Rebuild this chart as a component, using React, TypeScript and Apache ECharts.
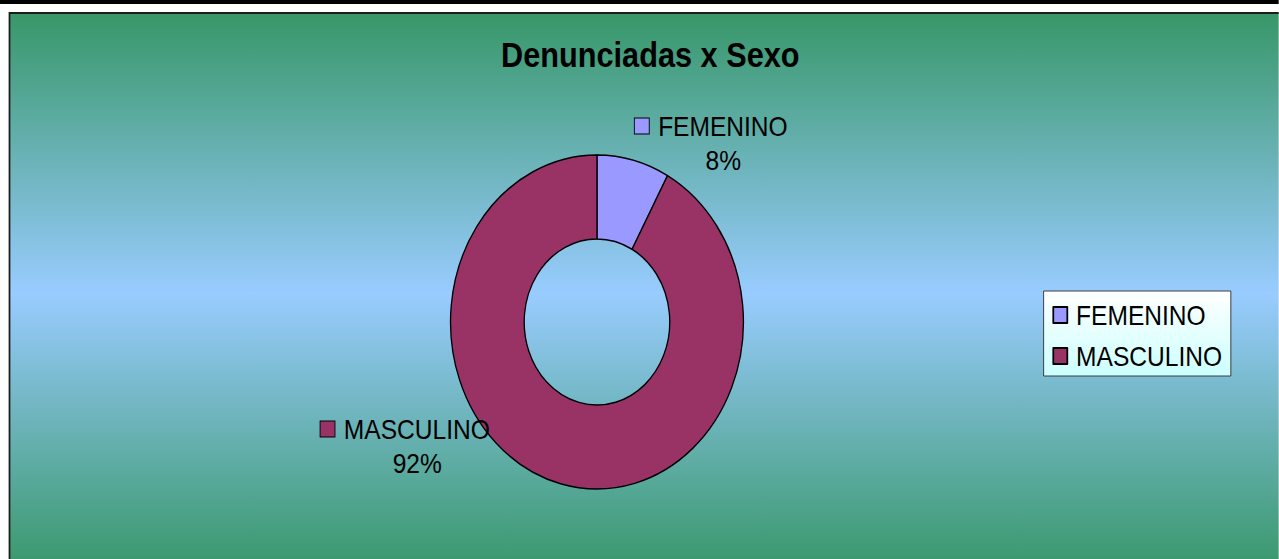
import React, { useEffect, useRef } from "react";
import * as echarts from "echarts";

const categories = ["FEMENINO", "MASCULINO"];
const values = [8, 92];
const sliceColors = ["#9999FF", "#993366"];
const titleText = "Denunciadas x Sexo";

const SX = 0.877; // horizontal compression of the original picture
const VIEW_W = 1279;
const VIEW_H = 559;
const W = VIEW_W / SX;

const FONT = "'Liberation Sans', Arial, sans-serif";

export default function App() {
  const ref = useRef<HTMLDivElement>(null);

  useEffect(() => {
    if (!ref.current) return;
    const chart = echarts.init(ref.current, null, { renderer: "svg" });

    const labelPos = [
      { x: 811, y: 143 },
      { x: 462, y: 446 },
    ];

    const rich: any = {
      g: { width: 10.6, height: 15, lineHeight: 34 },
      h: { width: 27.6, height: 15, lineHeight: 34 },
    };
    sliceColors.forEach((c, i) => {
      rich["sq" + i] = {
        width: 16,
        height: 15,
        backgroundColor: c,
        borderColor: "#000",
        borderWidth: 1,
        lineHeight: 34,
      };
    });

    chart.setOption({
      animation: false,
      color: sliceColors,
      graphic: [
        {
          type: "rect",
          z: -10,
          shape: { x: 0, y: 0, width: W, height: 4 },
          style: { fill: "#000" },
        },
        {
          type: "rect",
          z: -10,
          shape: { x: 9.5 / SX, y: 13, width: W, height: 560 },
          style: {
            fill: {
              type: "linear",
              x: 0,
              y: 0,
              x2: 0,
              y2: 1,
              colorStops: [
                { offset: 0, color: "#379768" },
                { offset: 0.5, color: "#99CCFF" },
                { offset: 1, color: "#379768" },
              ],
            },
            stroke: "#1c1c1c",
            lineWidth: 2,
          },
        },
        {
          type: "text",
          z: 10,
          x: 741.5,
          y: 55,
          style: {
            text: titleText,
            fill: "#000",
            font: `bold 35px ${FONT}`,
            textAlign: "center",
            textVerticalAlign: "middle",
          },
        },
      ],
      legend: {
        orient: "vertical",
        left: 1190,
        top: 291,
        padding: [10, 10, 6, 10],
        itemGap: 13,
        itemWidth: 16,
        itemHeight: 16,
        icon: "rect",
        data: categories,
        backgroundColor: {
          type: "linear",
          x: 0,
          y: 0,
          x2: 0,
          y2: 1,
          colorStops: [
            { offset: 0, color: "#FFFFFF" },
            { offset: 1, color: "#CCFFFF" },
          ],
        },
        borderColor: "#333",
        borderWidth: 1,
        borderRadius: 0,
        textStyle: {
          fontFamily: FONT,
          fontSize: 28,
          color: "#000",
          padding: [0, 0, 0, 5],
        },
      },
      series: [
        {
          type: "pie",
          center: [680.7, 322],
          radius: [83, 167],
          startAngle: 90,
          clockwise: true,
          avoidLabelOverlap: false,
          itemStyle: { borderColor: "#000", borderWidth: 1.5 },
          emphasis: { disabled: true },
          labelLine: { show: false },
          label: {
            show: true,
            position: "outside",
            fontFamily: FONT,
            fontSize: 28,
            color: "#000",
            lineHeight: 34,
            align: "center",
            verticalAlign: "middle",
            formatter: (p: any) =>
              `{sq${p.dataIndex}|}{g|}${p.name}\n{h|}${Math.round(p.percent)}%`,
            rich,
          },
          labelLayout: (params: any) => ({
            x: labelPos[params.dataIndex].x,
            y: labelPos[params.dataIndex].y,
            align: "center",
            verticalAlign: "middle",
          }),
          data: categories.map((name, i) => ({ name, value: values[i] })),
        },
      ],
    });

    return () => chart.dispose();
  }, []);

  return (
    <div
      style={{
        position: "fixed",
        left: 0,
        top: 0,
        width: VIEW_W,
        height: VIEW_H,
        overflow: "hidden",
        background: "#fff",
      }}
    >
      <div
        ref={ref}
        style={{
          width: W,
          height: VIEW_H,
          transform: `scaleX(${SX})`,
          transformOrigin: "0 0",
        }}
      />
    </div>
  );
}
